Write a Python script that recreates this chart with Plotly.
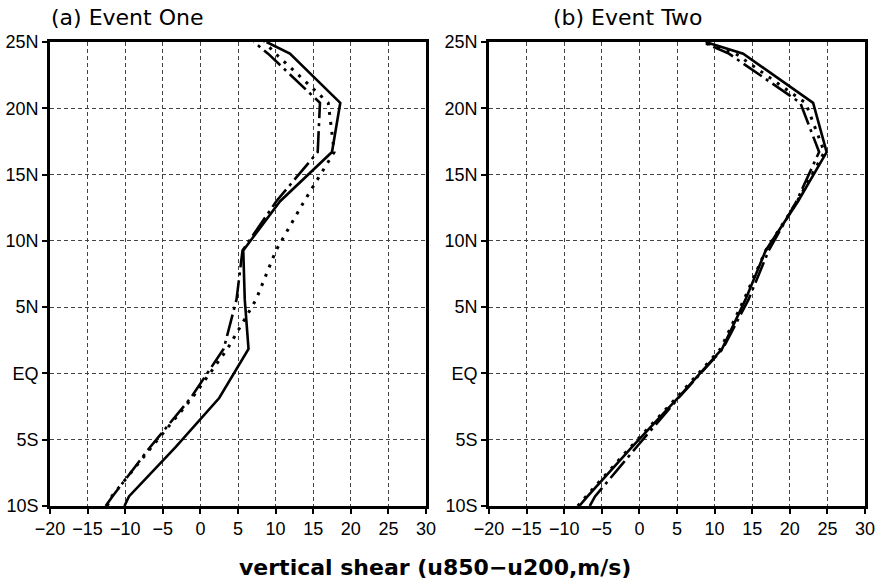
import plotly.graph_objects as go

# Latitudes of the T31 Gaussian grid rows inside the plotted band, plus the band edges
lats = [-10, -9.278, -5.567, -1.856, 1.856, 5.567, 9.278, 12.989, 16.700, 20.411, 24.122, 25]

# (a) Event One : vertical shear u850-u200 (m/s)
solid_a = [-10.1, -9.5, -3.3, 2.5, 6.4, 5.9, 5.7, 10.6, 17.5, 18.6, 11.9, 8.8]
dashdot_a = [-12.6, -11.7, -6.7, -1.3, 3.1, 4.8, 5.6, 10.1, 15.6, 15.9, 9.0, 7.1]
dotted_a = [-12.4, -11.8, -6.5, -1.1, 3.6, 7.4, 10.05, 13.8, 17.8, 17.0, 10.0, 8.5]

# (b) Event Two
solid_b = [-8.0, -6.9, -1.0, 5.1, 11.0, 14.1, 16.8, 21.1, 24.9, 23.1, 13.8, 8.8]
dashdot_b = [-6.6, -5.9, -0.4, 5.2, 11.1, 14.5, 17.2, 20.9, 23.9, 21.4, 11.9, 8.4]
dotted_b = [-8.2, -7.1, -1.2, 4.9, 10.8, 13.9, 16.8, 21.0, 24.6, 22.1, 12.8, 8.6]

x_ticks = [-20, -15, -10, -5, 0, 5, 10, 15, 20, 25, 30]
x_ticktext = ["\u221220", "\u221215", "\u221210", "\u22125", "0", "5", "10", "15", "20", "25", "30"]
y_ticks = [-10, -5, 0, 5, 10, 15, 20, 25]
y_ticktext = ["10S", "5S", "EQ", "5N", "10N", "15N", "20N", "25N"]

titles = ["(a) Event One", "(b) Event Two"]
x_label = "vertical shear (u850\u2212u200,m/s)"

W, H = 876, 582
FONT = "Liberation Sans, Arial, sans-serif"

fig = go.Figure()

styles = [
    dict(dash="solid", width=2.6),
    dict(dash="22px,5px,3px,5px", width=2.6),
    dict(dash="3px,7px", width=3.0),
]

panels = [
    ("x", "y", [solid_a, dashdot_a, dotted_a]),
    ("x2", "y2", [solid_b, dashdot_b, dotted_b]),
]
for xa, ya, series in panels:
    for vals, st in zip(series, styles):
        fig.add_trace(go.Scatter(
            x=vals, y=lats, xaxis=xa, yaxis=ya, mode="lines",
            line=dict(color="black", width=st["width"], dash=st["dash"]),
            showlegend=False, hoverinfo="skip",
        ))

def px_x(p):
    return p / W

def px_y(p):
    return 1 - p / H

ydom = [px_y(506), px_y(42)]
axis_common = dict(
    showline=True, mirror=True, linecolor="black", linewidth=2.6,
    showgrid=True, gridcolor="#444444", gridwidth=1, griddash="4px,3px",
    zeroline=False, ticks="outside", ticklen=5, tickwidth=1.5, tickcolor="black",
    tickfont=dict(family=FONT, size=18, color="black"), automargin=False,
)

fig.update_layout(
    width=W, height=H,
    margin=dict(l=0, r=0, t=0, b=0, autoexpand=False),
    paper_bgcolor="white", plot_bgcolor="white",
    xaxis=dict(domain=[px_x(50), px_x(426)], range=[-20, 30], tickvals=x_ticks,
               ticktext=x_ticktext, anchor="y", **axis_common),
    yaxis=dict(domain=ydom, range=[-10, 25], tickvals=y_ticks,
               ticktext=y_ticktext, anchor="x", **axis_common),
    xaxis2=dict(domain=[px_x(489), px_x(865)], range=[-20, 30], tickvals=x_ticks,
                ticktext=x_ticktext, anchor="y2", **axis_common),
    yaxis2=dict(domain=ydom, range=[-10, 25], tickvals=y_ticks,
                ticktext=y_ticktext, anchor="x2", **axis_common),
)

fig.add_annotation(text=titles[0], x=px_x(49), y=px_y(17), xref="paper", yref="paper",
                   xanchor="left", yanchor="middle", showarrow=False,
                   font=dict(family="DejaVu Sans", size=22, color="black"))
fig.add_annotation(text=titles[1], x=px_x(551), y=px_y(17), xref="paper", yref="paper",
                   xanchor="left", yanchor="middle", showarrow=False,
                   font=dict(family="DejaVu Sans", size=22, color="black"))
fig.add_annotation(text="<b>" + x_label + "</b>", x=px_x(435), y=px_y(567),
                   xref="paper", yref="paper", xanchor="center", yanchor="middle",
                   showarrow=False, font=dict(family="DejaVu Sans", size=22, color="black"))

fig.write_html("out.html")
